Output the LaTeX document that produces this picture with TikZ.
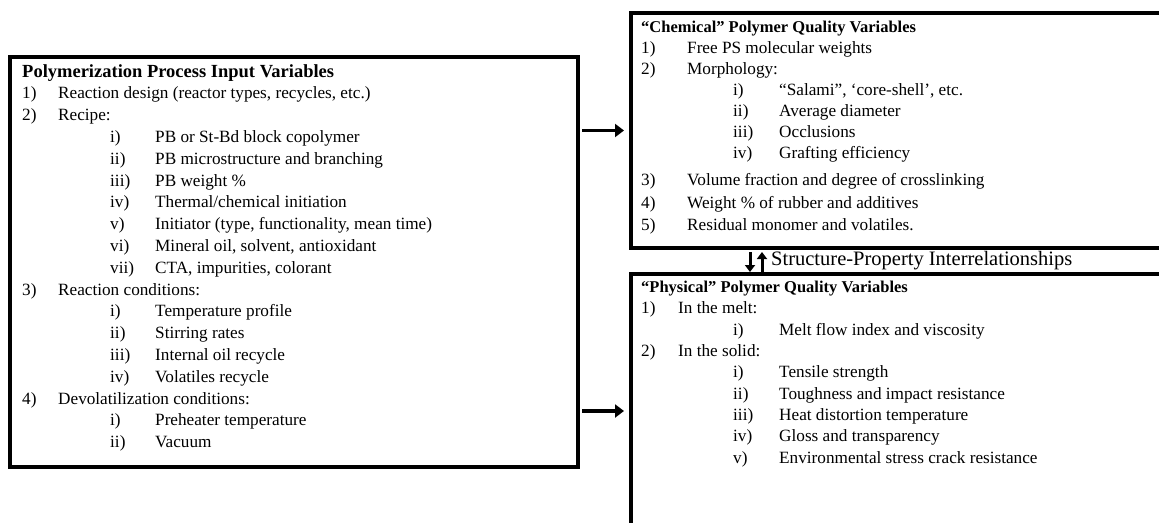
\documentclass[tikz,border=0pt]{standalone}
\usepackage{fontspec}
\setmainfont{Liberation Serif}
\usetikzlibrary{arrows.meta,positioning}

\newcommand{\lab}[2]{\makebox[#1][l]{#2}}

\begin{document}
\begin{tikzpicture}[x=1pt,y=-1pt,
    panel/.style={rectangle, draw, line width=3.5pt, outer sep=0pt, anchor=north west},
    listing/.style={anchor=north west, align=left, inner sep=0pt, font=\fontsize{17.2}{21.8}\selectfont},
    feed/.style={-{Triangle[length=9pt,width=13pt]}, line width=3.5pt, shorten <=4pt, shorten >=7pt},
    twin/.style={-{Triangle[length=7pt,width=10pt]}, line width=3pt}]
    \useasboundingbox (0,0) rectangle (1159,522);

    \node (inputs) [panel, minimum width=568pt, minimum height=410pt] at (10,57) {};
    \node (chem) [panel, minimum width=560pt, minimum height=235pt] at (631,13) {};
    \node (phys) [panel, minimum width=560pt, minimum height=274pt] at (631,274) {};

    \node (inputslist) [listing] at ([xshift=12pt,yshift=-7pt]inputs.north west) {%
        {\fontsize{18.5}{21.8}\selectfont\textbf{Polymerization Process Input Variables}}\\
        \lab{36pt}{1)}Reaction design (reactor types, recycles, etc.)\\
        \lab{36pt}{2)}Recipe:\\
        \hspace*{88pt}\lab{45pt}{i)}PB or St-Bd block copolymer\\
        \hspace*{88pt}\lab{45pt}{ii)}PB microstructure and branching\\
        \hspace*{88pt}\lab{45pt}{iii)}PB weight \%\\
        \hspace*{88pt}\lab{45pt}{iv)}Thermal/chemical initiation\\
        \hspace*{88pt}\lab{45pt}{v)}Initiator (type, functionality, mean time)\\
        \hspace*{88pt}\lab{45pt}{vi)}Mineral oil, solvent, antioxidant\\
        \hspace*{88pt}\lab{45pt}{vii)}CTA, impurities, colorant\\
        \lab{36pt}{3)}Reaction conditions:\\
        \hspace*{88pt}\lab{45pt}{i)}Temperature profile\\
        \hspace*{88pt}\lab{45pt}{ii)}Stirring rates\\
        \hspace*{88pt}\lab{45pt}{iii)}Internal oil recycle\\
        \hspace*{88pt}\lab{45pt}{iv)}Volatiles recycle\\
        \lab{36pt}{4)}Devolatilization conditions:\\
        \hspace*{88pt}\lab{45pt}{i)}Preheater temperature\\
        \hspace*{88pt}\lab{45pt}{ii)}Vacuum};

    \node (chemlist) [listing, font=\fontsize{17.2}{21}\selectfont] at ([xshift=10pt,yshift=-8pt]chem.north west) {%
        {\fontsize{16.5}{21}\selectfont\textbf{“Chemical” Polymer Quality Variables}}\\
        \lab{46pt}{1)}Free PS molecular weights\\
        \lab{46pt}{2)}Morphology:\\
        \hspace*{92pt}\lab{46pt}{i)}“Salami”, ‘core-shell’, etc.\\
        \hspace*{92pt}\lab{46pt}{ii)}Average diameter\\
        \hspace*{92pt}\lab{46pt}{iii)}Occlusions\\
        \hspace*{92pt}\lab{46pt}{iv)}Grafting efficiency\\[6pt]
        \lab{46pt}{3)}Volume fraction and degree of crosslinking\\[1.5pt]
        \lab{46pt}{4)}Weight \% of rubber and additives\\[1.5pt]
        \lab{46pt}{5)}Residual monomer and volatiles.};

    \node (physlist) [listing, font=\fontsize{17.2}{21.3}\selectfont] at ([xshift=10pt,yshift=-7pt]phys.north west) {%
        {\fontsize{16.5}{21.3}\selectfont\textbf{“Physical” Polymer Quality Variables}}\\
        \lab{37pt}{1)}In the melt:\\
        \hspace*{92pt}\lab{46pt}{i)}Melt flow index and viscosity\\
        \lab{37pt}{2)}In the solid:\\
        \hspace*{92pt}\lab{46pt}{i)}Tensile strength\\
        \hspace*{92pt}\lab{46pt}{ii)}Toughness and impact resistance\\
        \hspace*{92pt}\lab{46pt}{iii)}Heat distortion temperature\\
        \hspace*{92pt}\lab{46pt}{iv)}Gloss and transparency\\
        \hspace*{92pt}\lab{46pt}{v)}Environmental stress crack resistance};

    \node (link) [anchor=west, inner sep=0pt, font=\fontsize{20.5}{24}\selectfont] at (771,261) {Structure-Property Interrelationships};

    \draw[feed] (inputs.east |- chem.west) -- (chem.west);
    \draw[feed] (inputs.east |- phys.west) -- (phys.west);
    \draw[twin] ([xshift=-21pt,yshift=9pt]link.west) -- ([xshift=-21pt,yshift=-11pt]link.west);
    \draw[twin] ([xshift=-9pt,yshift=-11pt]link.west) -- ([xshift=-9pt,yshift=9pt]link.west);
\end{tikzpicture}
\end{document}
